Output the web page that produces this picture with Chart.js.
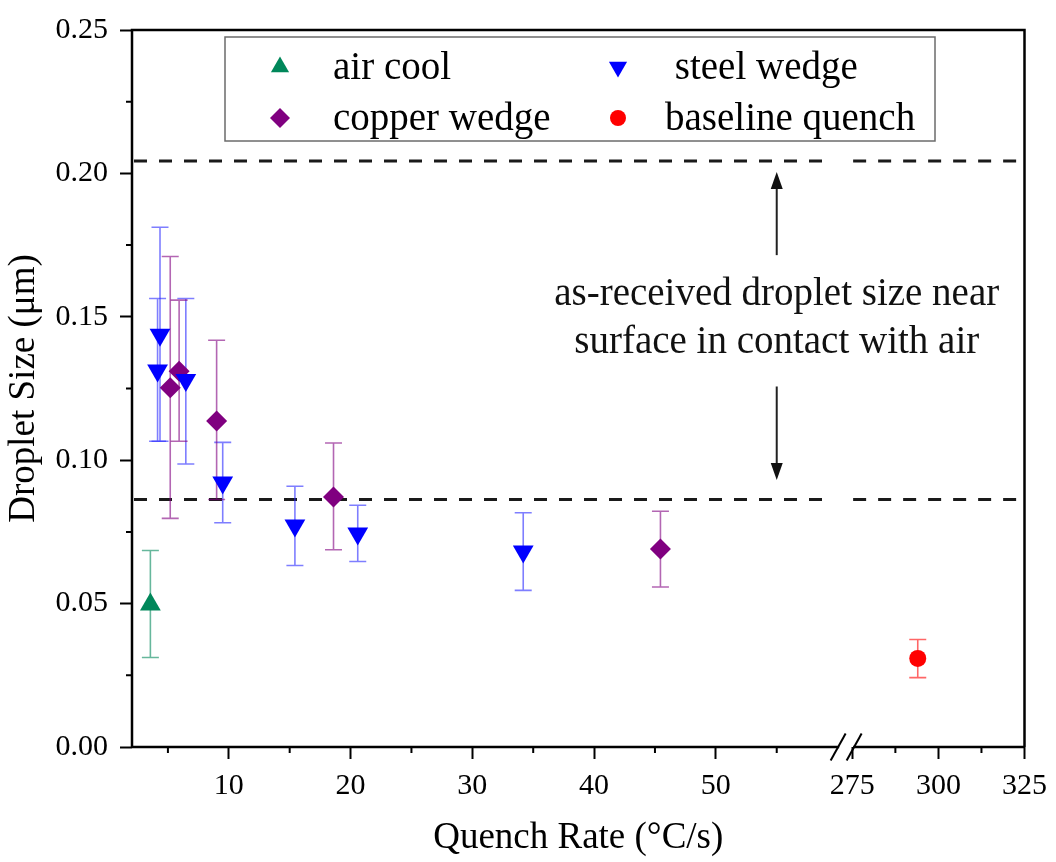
<!DOCTYPE html>
<html>
<head>
<meta charset="utf-8">
<title>Droplet size vs quench rate</title>
<script src="https://cdn.jsdelivr.net/npm/chart.js@4.4.1/dist/chart.umd.min.js"></script>
<style>
  html, body { margin: 0; padding: 0; background: #fff; }
  #wrap { width: 1056px; height: 862px; }
</style>
</head>
<body>
<div id="wrap"><canvas id="dropletChart" width="1056" height="862"></canvas></div>
<script>
(function () {
  'use strict';

  // values: x = quench rate (°C/s), y = droplet size (µm)
  const airCoolX = [3.56];
  const airCoolY = [0.0497];
  const airCoolLow = [0.0312];
  const airCoolHigh = [0.0685];

  const steelX = [4.35, 4.15, 6.47, 9.5, 15.43, 20.59, 34.18];
  const steelY = [0.1437, 0.1313, 0.1280, 0.0922, 0.0772, 0.0744, 0.0682];
  const steelLow = [0.1066, 0.1066, 0.0987, 0.0782, 0.0633, 0.0647, 0.0546];
  const steelHigh = [0.1812, 0.1564, 0.1564, 0.1062, 0.0909, 0.0843, 0.0817];

  const copperX = [5.19, 5.92, 9.0, 18.6, 45.45];
  const copperY = [0.1253, 0.1310, 0.1137, 0.0872, 0.0690];
  const copperLow = [0.0797, 0.1066, 0.0863, 0.0688, 0.0558];
  const copperHigh = [0.1710, 0.1558, 0.1418, 0.1060, 0.0822];

  const baselineX = [294];
  const baselineY = [0.0309];
  const baselineLow = [0.0242];
  const baselineHigh = [0.0375];

  const xTickLabels = [10, 20, 30, 40, 50, 275, 300, 325];
  const xMinorTicks = [5, 15, 25, 35, 45, 55, 287.5, 312.5];
  const yMinorTicks = [0.025, 0.075, 0.125, 0.175, 0.225];

  // as-received droplet size band and its note
  const asReceivedLevels = [0.2043, 0.0863];
  const noteLines = ['as-received droplet size near', 'surface in contact with air'];

  // broken x axis: first part kept as is, the part after the break squeezed
  const X_START = 2.05, BREAK_LO = 60.7, BREAK_HI = 273.2, SQUEEZE = 0.2828, X_END = 325;
  function toAxis(v) {
    return v <= BREAK_LO ? v : BREAK_LO + (v - BREAK_HI) * SQUEEZE;
  }

  const FONT = "'Liberation Serif', 'Times New Roman', serif";

  const series = [
    { label: 'air cool', x: airCoolX, y: airCoolY, lo: airCoolLow, hi: airCoolHigh },
    { label: ' steel wedge', x: steelX, y: steelY, lo: steelLow, hi: steelHigh },
    { label: 'copper wedge', x: copperX, y: copperY, lo: copperLow, hi: copperHigh },
    { label: 'baseline quench', x: baselineX, y: baselineY, lo: baselineLow, hi: baselineHigh }
  ];
  const looks = [
    { color: '#00875a', bar: 'rgba(0,135,90,0.6)', style: 'triangle', rotation: 0, radius: 12, small: 10.5 },
    { color: '#0000ff', bar: 'rgba(40,40,255,0.6)', style: 'triangle', rotation: 180, radius: 12, small: 10.5 },
    { color: '#800080', bar: 'rgba(128,0,128,0.6)', style: 'rectRot', radius: 10.5, rotation: 0, small: 10 },
    { color: '#ff0000', bar: 'rgba(255,0,0,0.6)', style: 'circle', radius: 8.5, rotation: 0, small: 8 }
  ];

  const datasets = series.map((s, i) => ({
    label: s.label,
    data: s.x.map((v, j) => ({ x: toAxis(v), y: s.y[j] })),
    errLow: s.lo,
    errHigh: s.hi,
    barColor: looks[i].bar,
    backgroundColor: looks[i].color,
    borderColor: looks[i].color,
    pointStyle: looks[i].style,
    pointRotation: looks[i].rotation,
    pointRadius: looks[i].radius,
    pointBorderWidth: 0,
    showLine: false
  }));

  function drawPointShape(ctx, style, rotation, r, x, y, color) {
    ctx.save();
    ctx.fillStyle = color;
    ctx.beginPath();
    if (style === 'circle') {
      ctx.arc(x, y, r, 0, Math.PI * 2);
    } else if (style === 'rectRot') {
      ctx.moveTo(x, y - r); ctx.lineTo(x + r, y); ctx.lineTo(x, y + r); ctx.lineTo(x - r, y);
    } else {
      let a = rotation * Math.PI / 180;
      for (let k = 0; k < 3; k++) {
        const px = x + Math.sin(a) * r, py = y - Math.cos(a) * r;
        if (k === 0) ctx.moveTo(px, py); else ctx.lineTo(px, py);
        a += 2 * Math.PI / 3;
      }
    }
    ctx.closePath();
    ctx.fill();
    ctx.restore();
  }

  const extras = {
    id: 'extras',
    beforeDatasetsDraw(chart) {
      const ctx = chart.ctx;
      const xs = chart.scales.x, ys = chart.scales.y;
      const area = chart.chartArea;
      const bp = xs.getPixelForValue(BREAK_LO);

      // dashed reference lines, cut at the axis break
      ctx.save();
      ctx.strokeStyle = '#1a1a1a';
      ctx.lineWidth = 3;
      ctx.setLineDash([13, 12]);
      asReceivedLevels.forEach(lv => {
        const py = ys.getPixelForValue(lv);
        ctx.beginPath();
        ctx.moveTo(area.left + 2, py); ctx.lineTo(bp - 14, py);
        ctx.moveTo(bp + 7, py); ctx.lineTo(area.right - 2, py);
        ctx.stroke();
      });
      ctx.restore();

      // error bars
      ctx.save();
      ctx.lineWidth = 1.6;
      chart.data.datasets.forEach(ds => {
        ctx.strokeStyle = ds.barColor;
        ds.data.forEach((pt, j) => {
          const px = xs.getPixelForValue(pt.x);
          const top = ys.getPixelForValue(ds.errHigh[j]);
          const bot = ys.getPixelForValue(ds.errLow[j]);
          ctx.beginPath();
          ctx.moveTo(px, top); ctx.lineTo(px, bot);
          ctx.moveTo(px - 8.5, top); ctx.lineTo(px + 8.5, top);
          ctx.moveTo(px - 8.5, bot); ctx.lineTo(px + 8.5, bot);
          ctx.stroke();
        });
      });
      ctx.restore();
    },
    afterDatasetsDraw(chart) {
      const ctx = chart.ctx;
      const xs = chart.scales.x, ys = chart.scales.y;
      const area = chart.chartArea;
      const bp = xs.getPixelForValue(BREAK_LO);

      // frame
      ctx.save();
      ctx.strokeStyle = '#000';
      ctx.lineWidth = 2.5;
      ctx.beginPath();
      ctx.moveTo(area.left, area.bottom); ctx.lineTo(area.left, area.top);
      ctx.lineTo(area.right, area.top); ctx.lineTo(area.right, area.bottom);
      ctx.moveTo(area.left, area.bottom); ctx.lineTo(bp - 7, area.bottom);
      ctx.moveTo(bp + 7, area.bottom); ctx.lineTo(area.right, area.bottom);
      ctx.stroke();

      // break marks
      ctx.lineWidth = 2;
      [-8, 8].forEach(dx => {
        ctx.beginPath();
        ctx.moveTo(bp + dx - 7.5, area.bottom + 13.5);
        ctx.lineTo(bp + dx + 7.5, area.bottom - 13.5);
        ctx.stroke();
      });

      // minor ticks
      ctx.lineWidth = 2;
      ctx.beginPath();
      xMinorTicks.forEach(v => {
        const px = xs.getPixelForValue(toAxis(v));
        ctx.moveTo(px, area.bottom); ctx.lineTo(px, area.bottom + 6);
      });
      yMinorTicks.forEach(v => {
        const py = ys.getPixelForValue(v);
        ctx.moveTo(area.left, py); ctx.lineTo(area.left - 6, py);
      });
      ctx.stroke();
      ctx.restore();

      // note with arrows
      const nx = xs.getPixelForValue(55);
      ctx.save();
      ctx.fillStyle = '#111';
      ctx.strokeStyle = '#222';
      ctx.lineWidth = 2;
      ctx.font = '39px ' + FONT;
      ctx.textAlign = 'center';
      ctx.textBaseline = 'middle';
      ctx.fillText(noteLines[0], nx, ys.getPixelForValue(0.1577));
      ctx.fillText(noteLines[1], nx, ys.getPixelForValue(0.1409));
      [[0.1715, 0.2005], [0.1257, 0.0931]].forEach(([from, to]) => {
        const y0 = ys.getPixelForValue(from), y1 = ys.getPixelForValue(to);
        const dir = y1 < y0 ? 1 : -1;
        ctx.beginPath();
        ctx.moveTo(nx, y0); ctx.lineTo(nx, y1 + dir * 12);
        ctx.stroke();
        ctx.beginPath();
        ctx.moveTo(nx, y1);
        ctx.lineTo(nx - 6, y1 + dir * 17);
        ctx.lineTo(nx + 6, y1 + dir * 17);
        ctx.closePath();
        ctx.fill();
      });
      ctx.restore();

      // legend box
      ctx.save();
      ctx.strokeStyle = '#6b6b6b';
      ctx.lineWidth = 1.5;
      ctx.strokeRect(225, 37, 710, 104);
      ctx.font = '39px ' + FONT;
      ctx.fillStyle = '#000';
      ctx.textBaseline = 'alphabetic';
      ctx.textAlign = 'left';
      const colMark = [280, 618], colText = [333, 665], rowY = [67, 118];
      chart.data.datasets.forEach((ds, i) => {
        const c = i % 2, r = Math.floor(i / 2);
        const lk = looks[i];
        drawPointShape(ctx, lk.style, lk.rotation, lk.small, colMark[c], rowY[r], lk.color);
        ctx.fillText(ds.label, colText[c], rowY[r] + 12);
      });
      ctx.restore();
    }
  };

  new Chart(document.getElementById('dropletChart'), {
    type: 'scatter',
    data: { datasets: datasets },
    options: {
      responsive: false,
      animation: false,
      layout: { padding: { top: 25, right: 25, left: 0, bottom: 0 } },
      plugins: {
        legend: { display: false },
        tooltip: { enabled: false }
      },
      scales: {
        x: {
          type: 'linear',
          min: X_START,
          max: toAxis(X_END),
          afterFit: s => { s.height = 115; },
          afterBuildTicks: s => { s.ticks = xTickLabels.map(v => ({ value: toAxis(v) })); },
          border: { display: false },
          grid: { drawOnChartArea: false, tickLength: 12, tickWidth: 2, tickColor: '#000' },
          ticks: {
            autoSkip: false,
            maxRotation: 0,
            padding: 9,
            color: '#000',
            font: { family: FONT, size: 30 },
            callback: (val, idx) => xTickLabels[idx]
          },
          title: {
            display: true,
            text: 'Quench Rate (°C/s)',
            color: '#000',
            font: { family: FONT, size: 37 },
            padding: { top: 0, bottom: 2 }
          }
        },
        y: {
          min: 0,
          max: 0.25,
          afterFit: s => { s.width = 132; },
          border: { display: false },
          grid: { drawOnChartArea: false, tickLength: 12, tickWidth: 2, tickColor: '#000' },
          ticks: {
            stepSize: 0.05,
            padding: 12,
            color: '#000',
            font: { family: FONT, size: 30 },
            callback: v => v.toFixed(2)
          },
          title: {
            display: true,
            text: 'Droplet Size (μm)',
            color: '#000',
            font: { family: FONT, size: 37 },
            padding: { top: 2, bottom: 0 }
          }
        }
      }
    },
    plugins: [extras]
  });
})();
</script>
</body>
</html>
